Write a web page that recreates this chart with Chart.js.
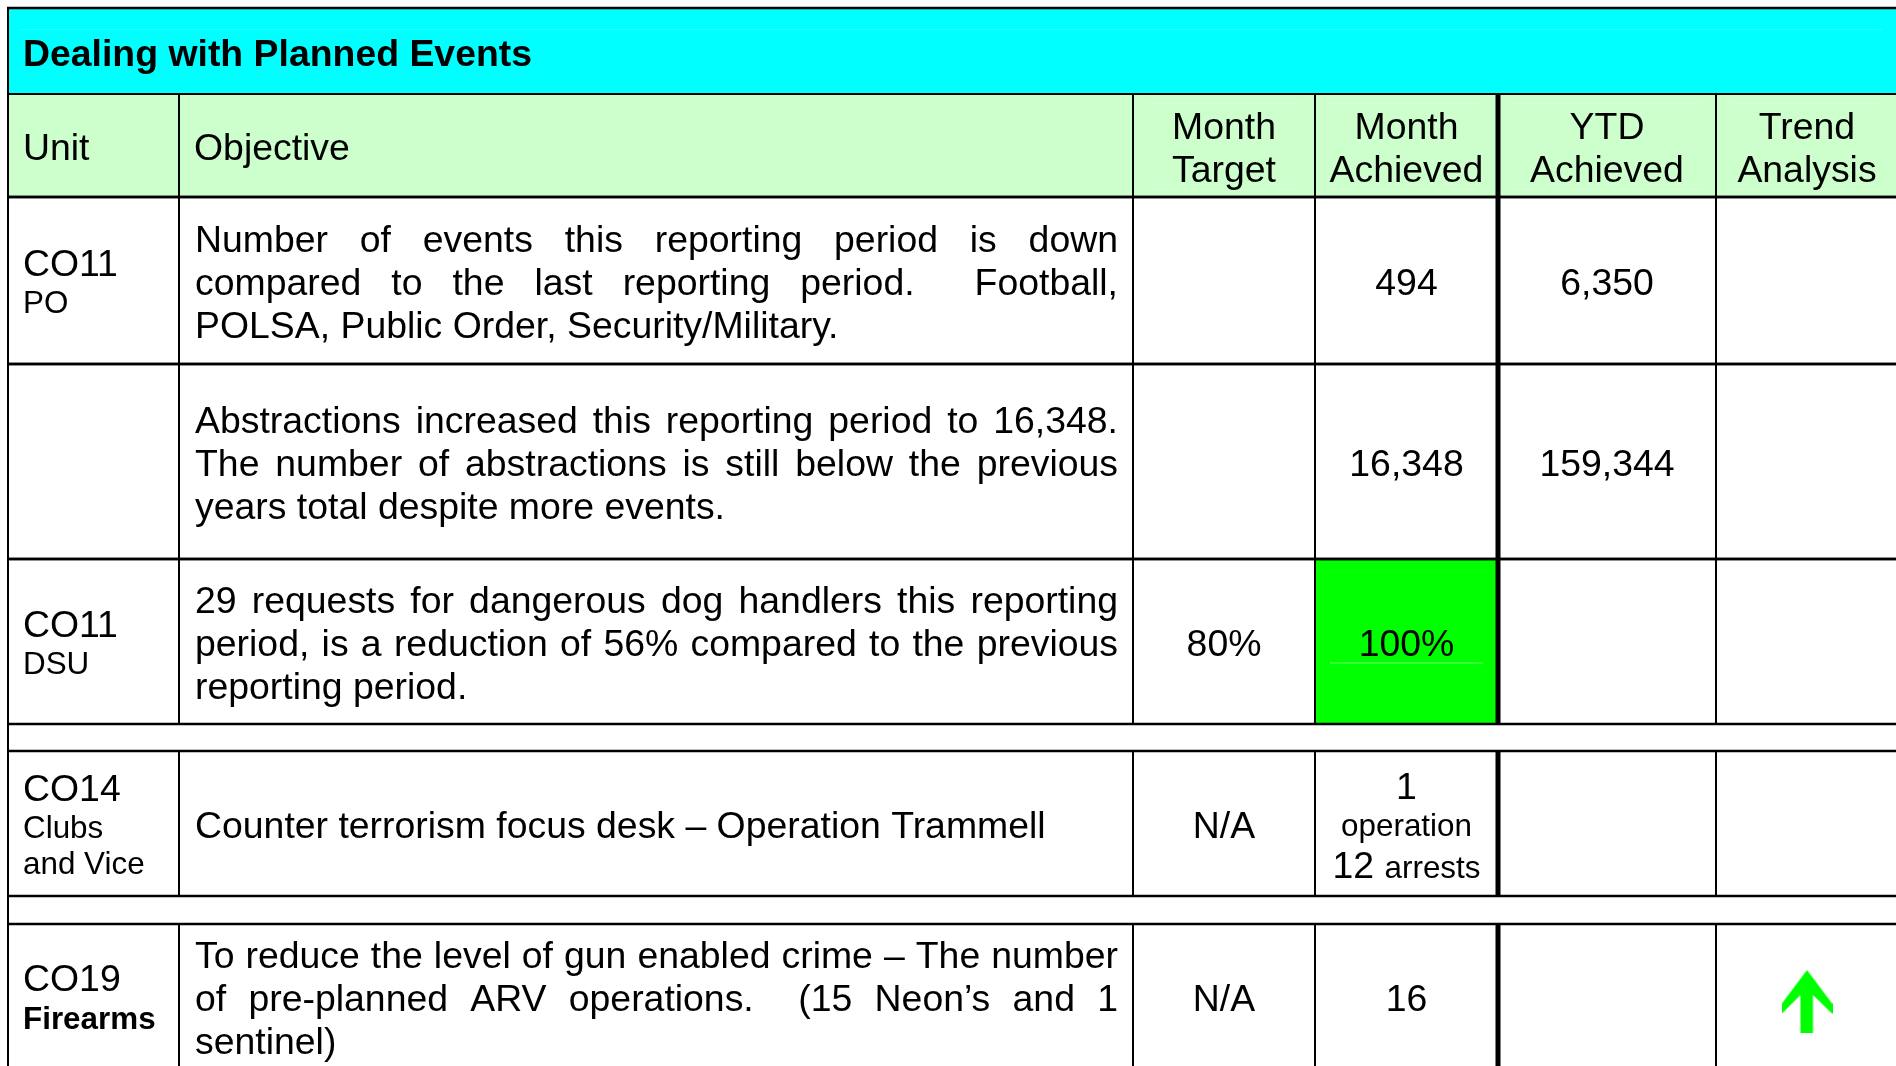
<!DOCTYPE html>
<html>
<head>
<meta charset="utf-8">
<title>Dealing with Planned Events</title>
<script src="https://cdn.jsdelivr.net/npm/chart.js@4.4.1/dist/chart.umd.min.js"></script>
<style>
  html, body { margin: 0; padding: 0; background: #fff; overflow: hidden; }
  #tbl { display: block; }
</style>
</head>
<body>
<canvas id="tbl" width="1896" height="1066"></canvas>
<script>
// ---- table content ----
const title = 'Dealing with Planned Events';
const headers = [['Unit'], ['Objective'], ['Month', 'Target'], ['Month', 'Achieved'], ['YTD', 'Achieved'], ['Trend', 'Analysis']];

const unitCodes = ['CO11', '', 'CO11', 'CO14', 'CO19'];
const unitNames = [['PO'], [], ['DSU'], ['Clubs', 'and Vice'], ['Firearms']];

const objectives = [
  ['Number of events this reporting period is down', 'compared to the last reporting period.  Football,', 'POLSA, Public Order, Security/Military.'],
  ['Abstractions increased this reporting period to 16,348.', 'The number of abstractions is still below the previous', 'years total despite more events.'],
  ['29 requests for dangerous dog handlers this reporting', 'period, is a reduction of 56% compared to the previous', 'reporting period.'],
  ['Counter terrorism focus desk \u2013 Operation Trammell'],
  ['To reduce the level of gun enabled crime \u2013 The number', 'of pre-planned ARV operations.  (15 Neon\u2019s and 1', 'sentinel)'],
];

const monthTarget = ['', '', '80%', 'N/A', 'N/A'];
const monthAchieved = [['494'], ['16,348'], ['100%'], ['1', 'operation', '12 arrests'], ['16']];
const ytdAchieved = ['6,350', '159,344', '', '', ''];
const trend = ['', '', '', '', 'up'];

// ---- layout (table units == pixels of the reference) ----
const W = 1896, H = 1066;
const colEdges = [8, 179, 1133, 1315, 1498, 1716, 1898];
const titleBand = [8, 94];
const headerBand = [94, 197];
const rowBands = [[197, 364], [364, 559], [559, 724], [751, 896], [924, 1068]];
const thickCol = 4; // heavy rule left of "YTD Achieved"

const FONT = '"Liberation Sans", Arial, Helvetica, sans-serif';
const BIG = 37.4, SMALL = 31.4;
const boldUnitNames = [4];
const CYAN = '#00ffff', HEAD_GREEN = '#ccffcc', MET_GREEN = '#00ff00';

function font(size, bold) {
  return (bold ? 'bold ' : '') + size + 'px ' + FONT;
}

function pct(s) {
  const m = /^(\d+(?:\.\d+)?)%$/.exec(s || '');
  return m ? parseFloat(m[1]) : null;
}

function line(text, size, bold, justify) {
  return { runs: [{ t: text, size, bold: !!bold }], size, justify: !!justify };
}

// numbers big, words small (e.g. "12 arrests")
function mixedLine(text) {
  const parts = text.split(' ');
  const runs = parts.map((p, i) => {
    const big = /^[\d.,%]+$/.test(p);
    return { t: p + (i < parts.length - 1 ? ' ' : ''), size: big ? BIG : SMALL, bold: false };
  });
  return { runs, size: Math.max(...runs.map(r => r.size)), justify: false };
}

function drawLine(ctx, ln, cy, place) {
  const base = cy + 0.36 * ln.size;
  ctx.textBaseline = 'alphabetic';
  ctx.textAlign = 'left';
  ctx.fillStyle = '#000';
  if (ln.justify) {
    const r = ln.runs[0];
    ctx.font = font(r.size, r.bold);
    const words = r.t.split(' ');
    const widths = words.map(w => ctx.measureText(w).width);
    const sum = widths.reduce((a, b) => a + b, 0);
    const gap = (place.right - place.left - sum) / (words.length - 1);
    let x = place.left;
    words.forEach((w, i) => {
      ctx.fillText(w, x, base);
      x += widths[i] + gap;
    });
    return;
  }
  let total = 0;
  ln.runs.forEach(r => { ctx.font = font(r.size, r.bold); total += ctx.measureText(r.t).width; });
  let x = place.align === 'center' ? place.center - total / 2 : place.left;
  ln.runs.forEach(r => {
    ctx.font = font(r.size, r.bold);
    ctx.fillText(r.t, x, base);
    x += ctx.measureText(r.t).width;
  });
}

function drawBlock(ctx, lines, top, bottom, place) {
  if (!lines.length) return;
  const gaps = [];
  let total = 0;
  for (let i = 1; i < lines.length; i++) {
    const g = 0.575 * (lines[i - 1].size + lines[i].size);
    gaps.push(g);
    total += g;
  }
  let cy = (top + bottom) / 2 + 1.5 - total / 2;
  lines.forEach((ln, i) => {
    if (i > 0) cy += gaps[i - 1];
    drawLine(ctx, ln, cy, place);
  });
}

const tablePlugin = {
  id: 'tableGrid',
  beforeDatasetsDraw(chart) {
    const { ctx, scales: { x, y } } = chart;
    const px = v => x.getPixelForValue(v);
    const py = v => y.getPixelForValue(v);
    const L = px(colEdges[0]), R = px(colEdges[colEdges.length - 1]);
    const cols = colEdges.slice(0, -1).map((e, i) => {
      const a = px(e), b = px(colEdges[i + 1]);
      return { a, b, left: a + 15, right: b - 15, center: (a + b) / 2 };
    });

    ctx.save();
    // backgrounds
    ctx.fillStyle = CYAN;
    ctx.fillRect(L, py(titleBand[0]), R - L, py(titleBand[1]) - py(titleBand[0]));
    ctx.fillStyle = HEAD_GREEN;
    ctx.fillRect(L, py(headerBand[0]), R - L, py(headerBand[1]) - py(headerBand[0]));
    const metRows = [];
    rowBands.forEach((band, i) => {
      const t = pct(monthTarget[i]), a = pct(monthAchieved[i][0]);
      if (t !== null && a !== null && a >= t) {
        metRows.push(i);
        ctx.fillStyle = MET_GREEN;
        ctx.fillRect(cols[3].a, py(band[0]), cols[3].b - cols[3].a, py(band[1]) - py(band[0]));
      }
    });

    // faint text-box traces left over in the source slide
    ctx.lineWidth = 1;
    ctx.strokeStyle = 'rgba(255,255,255,0.18)';
    ctx.beginPath();
    ctx.moveTo(px(21), py(29.5)); ctx.lineTo(px(1882), py(29.5));
    for (let c = 2; c < cols.length; c++) {
      [103.5, 189.5].forEach(v => {
        ctx.moveTo(cols[c].a + 14, py(v)); ctx.lineTo(cols[c].b - 14, py(v));
      });
    }
    ctx.stroke();
    ctx.strokeStyle = 'rgba(255,255,255,0.45)';
    ctx.beginPath();
    metRows.forEach(i => {
      const v = py((rowBands[i][0] + rowBands[i][1]) / 2 + 21.5);
      ctx.moveTo(cols[3].a + 15, v); ctx.lineTo(cols[3].b - 15, v);
    });
    ctx.stroke();

    // rules
    ctx.strokeStyle = '#000';
    const hLine = (v, w) => {
      ctx.lineWidth = w;
      ctx.beginPath(); ctx.moveTo(L - 1, py(v)); ctx.lineTo(R, py(v)); ctx.stroke();
    };
    const vLine = (xv, t, b, w) => {
      ctx.lineWidth = w;
      ctx.beginPath(); ctx.moveTo(xv, py(t)); ctx.lineTo(xv, py(b)); ctx.stroke();
    };
    [headerBand].concat(rowBands).forEach(band => {
      for (let c = 1; c < colEdges.length - 1; c++) {
        vLine(px(colEdges[c]), band[0], band[1], c === thickCol ? 5 : 2);
      }
    });
    vLine(L, titleBand[0] - 1, rowBands[rowBands.length - 1][1] + 10, 2);
    vLine(R, titleBand[0] - 1, rowBands[rowBands.length - 1][1], 2);
    hLine(titleBand[0], 2.5);
    hLine(titleBand[1], 2);
    hLine(headerBand[1], 2.5);
    rowBands.forEach(band => { hLine(band[0], 2.5); hLine(band[1], 2.5); });

    // title
    drawBlock(ctx, [line(title, BIG, true)], py(titleBand[0]), py(titleBand[1]),
      { align: 'left', left: L + 15 });

    // header
    headers.forEach((h, c) => {
      const place = c < 2 ? { align: 'left', left: cols[c].left } : { align: 'center', center: cols[c].center };
      drawBlock(ctx, h.map(s => line(s, BIG)), py(headerBand[0]), py(headerBand[1]), place);
    });

    // body
    rowBands.forEach((band, i) => {
      const top = py(band[0]), bot = py(band[1]);
      const unitLines = [];
      if (unitCodes[i]) unitLines.push(line(unitCodes[i], BIG));
      unitNames[i].forEach(n => unitLines.push(line(n, SMALL, boldUnitNames.includes(i))));
      drawBlock(ctx, unitLines, top, bot, { align: 'left', left: cols[0].left });

      const obj = objectives[i];
      drawBlock(ctx, obj.map((s, k) => line(s, BIG, false, obj.length > 1 && k < obj.length - 1)), top, bot,
        { align: 'left', left: cols[1].a + 16, right: cols[1].b - 15 });

      if (monthTarget[i]) drawBlock(ctx, [line(monthTarget[i], BIG)], top, bot, { align: 'center', center: cols[2].center });
      const ach = monthAchieved[i];
      drawBlock(ctx, ach.length > 1 ? ach.map(mixedLine) : ach.map(s => line(s, BIG)), top, bot,
        { align: 'center', center: cols[3].center });
      if (ytdAchieved[i]) drawBlock(ctx, [line(ytdAchieved[i], BIG)], top, bot, { align: 'center', center: cols[4].center });
    });
    ctx.restore();
  }
};

// green up-arrow used as point style for the trend column
function makeArrow(color) {
  const c = document.createElement('canvas');
  c.width = 51; c.height = 80;
  const g = c.getContext('2d');
  const oy = 14;
  g.fillStyle = color;
  g.beginPath();
  g.moveTo(25.5, oy + 0);
  g.lineTo(51, oy + 34);
  g.lineTo(51, oy + 44);
  g.lineTo(31.5, oy + 25);
  g.lineTo(31.5, oy + 63);
  g.lineTo(19, oy + 63);
  g.lineTo(19, oy + 25);
  g.lineTo(0, oy + 44);
  g.lineTo(0, oy + 34);
  g.closePath();
  g.fill();
  return c;
}

const trendPoints = [];
trend.forEach((t, i) => {
  if (t === 'up') {
    trendPoints.push({ x: (colEdges[5] + colEdges[6]) / 2, y: (rowBands[i][0] + rowBands[i][1]) / 2 });
  }
});

const ctx = document.getElementById('tbl');
const chart = new Chart(ctx, {
  type: 'scatter',
  data: {
    datasets: [{
      label: 'Trend',
      data: trendPoints,
      pointStyle: makeArrow(MET_GREEN),
      pointRadius: 1,
      pointHoverRadius: 1,
      clip: false,
    }],
  },
  options: {
    responsive: false,
    animation: false,
    devicePixelRatio: 1,
    events: [],
    layout: { padding: 0, autoPadding: false },
    scales: {
      x: { type: 'linear', min: 0, max: W, display: false },
      y: { type: 'linear', min: 0, max: H, reverse: true, display: false },
    },
    plugins: {
      legend: { display: false },
      tooltip: { enabled: false },
    },
  },
  plugins: [tablePlugin],
});
</script>
</body>
</html>
